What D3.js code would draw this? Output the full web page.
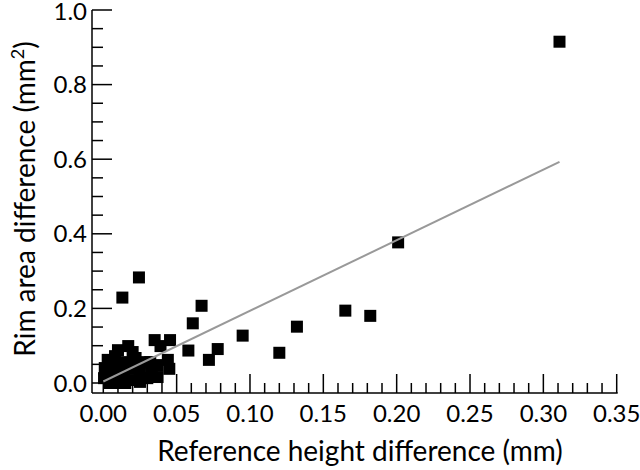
<!DOCTYPE html>
<html>
<head>
<meta charset="utf-8">
<script src="https://cdnjs.cloudflare.com/ajax/libs/d3/7.8.5/d3.min.js"></script>
<style>
  body { margin: 0; background: #fff; }
  svg text { font-family: "Lato", "Open Sans", sans-serif; fill: #000; }
</style>
</head>
<body>
<svg id="chart" width="640" height="470"></svg>
<script>
// reference height difference (mm)
const xVals = [
  0.0005, 0.001, 0.003, 0.006, 0.009, 0.010, 0.011, 0.014, 0.017, 0.020,
  0.018, 0.022, 0.021, 0.025, 0.028, 0.030, 0.033, 0.037, 0.035, 0.039,
  0.0455, 0.044, 0.045, 0.004, 0.015, 0.008, 0.006, 0.016, 0.032, 0.037,
  0.025, 0.012, 0.010, 0.023,
  0.013, 0.0243, 0.067, 0.061, 0.058, 0.078, 0.072, 0.095, 0.120, 0.132,
  0.165, 0.182, 0.201, 0.311
];
// rim area difference (mm2)
const yVals = [
  0.013, 0.040, 0.062, 0.029, 0.003, 0.088, 0.051, 0.021, 0.099, 0.083,
  0.040, 0.067, 0.008, 0.032, 0.056, 0.013, 0.029, 0.016, 0.115, 0.099,
  0.115, 0.062, 0.038, 0.000, 0.000, 0.072, 0.056, 0.056, 0.056, 0.048,
  0.003, 0.000, 0.032, 0.045,
  0.229, 0.283, 0.207, 0.160, 0.087, 0.091, 0.062, 0.127, 0.081, 0.151,
  0.194, 0.180, 0.377, 0.915
];
// fitted line
const fitX = [0, 0.311];
const fitIntercept = 0.004;
const fitSlope = 1.894;

const xTicks = [0, 0.05, 0.10, 0.15, 0.20, 0.25, 0.30, 0.35];
const yTicks = [0, 0.2, 0.4, 0.6, 0.8, 1.0];

const svg = d3.select("#chart");
const x = d3.scaleLinear().domain([0, 0.35]).range([103.3, 616.7]);
const y = d3.scaleLinear().domain([0, 1]).range([383, 10]);
const axisY0 = 393, axisX0 = 92;

const points = xVals.map((v, i) => ({x: v, y: yVals[i]}));

// x axis: ticks point up into the plot
const xAxis = svg.append("g").attr("transform", `translate(0,${axisY0})`);
xAxis.append("line")
  .attr("x1", axisX0).attr("x2", x(0.35) + 1)
  .attr("stroke", "#000").attr("stroke-width", 1.5);
xAxis.selectAll("line.minor")
  .data(d3.range(0, 36).map(i => i / 100))
  .enter().append("line")
  .attr("x1", d => x(d)).attr("x2", d => x(d))
  .attr("y1", 0)
  .attr("y2", (d, i) => i % 5 === 0 ? -19 : -10)
  .attr("stroke", "#000").attr("stroke-width", 1.5);
xAxis.selectAll("text")
  .data(xTicks)
  .enter().append("text")
  .attr("x", d => x(d)).attr("y", 29)
  .attr("text-anchor", "middle")
  .style("font-size", "24px")
  .text(d => d3.format(".2f")(d));

// y axis: ticks point right
const yAxis = svg.append("g").attr("transform", `translate(${axisX0},0)`);
yAxis.append("line")
  .attr("y1", y(1)).attr("y2", axisY0)
  .attr("stroke", "#000").attr("stroke-width", 1.5);
yAxis.selectAll("line.minor")
  .data(d3.range(0, 21).map(i => i / 20))
  .enter().append("line")
  .attr("y1", d => y(d)).attr("y2", d => y(d))
  .attr("x1", 0)
  .attr("x2", (d, i) => i % 4 === 0 ? 20 : 11)
  .attr("stroke", "#000").attr("stroke-width", 1.5);
yAxis.selectAll("text")
  .data(yTicks)
  .enter().append("text")
  .attr("x", -5).attr("y", d => y(d) + (d === 1 ? 9.5 : 8.5))
  .attr("text-anchor", "end")
  .style("font-size", "24px")
  .text(d => d3.format(".1f")(d));

// axis titles
svg.append("text")
  .attr("x", 360).attr("y", 461)
  .attr("text-anchor", "middle")
  .style("font-size", "28px")
  .text("Reference height difference (mm)");

const yTitle = svg.append("text")
  .attr("transform", "translate(35,199) rotate(-90)")
  .attr("text-anchor", "middle")
  .style("font-size", "28px");
yTitle.append("tspan").text("Rim area difference (mm");
yTitle.append("tspan").attr("dy", -11).style("font-size", "18px").text("2");
yTitle.append("tspan").attr("dy", 11).text(")");

// markers
const size = 12;
svg.selectAll("rect.pt")
  .data(points)
  .enter().append("rect")
  .attr("class", "pt")
  .attr("x", d => x(d.x) - size / 2)
  .attr("y", d => y(d.y) - size / 2)
  .attr("width", size).attr("height", size)
  .attr("fill", "#000");

// regression line, drawn over the cluster as in the reference
svg.append("line")
  .attr("x1", x(fitX[0])).attr("y1", y(fitIntercept + fitSlope * fitX[0]))
  .attr("x2", x(fitX[1])).attr("y2", y(fitIntercept + fitSlope * fitX[1]))
  .attr("stroke", "#999").attr("stroke-width", 2);
</script>
</body>
</html>
